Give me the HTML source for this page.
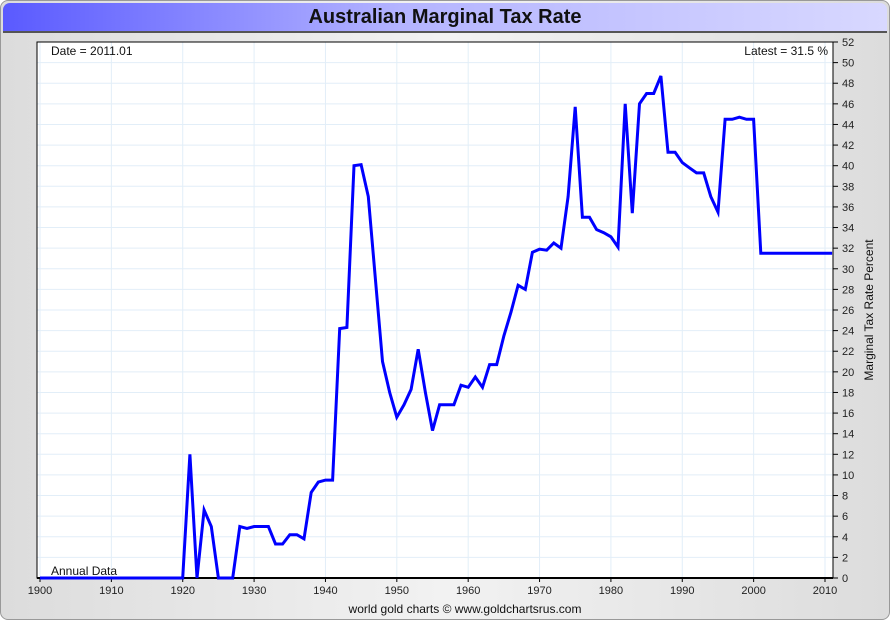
<!DOCTYPE html>
<html><head><meta charset="utf-8"><style>
body{margin:0;width:890px;height:620px;overflow:hidden;font-family:"Liberation Sans",sans-serif;}
#wrap{position:absolute;left:0;top:0;width:888px;height:618px;border:1px solid #999;border-radius:8px;background:linear-gradient(90deg,#dcdcdc,#f2f2f2 50%,#dcdcdc);}
#title{position:absolute;left:2px;top:2px;width:884px;height:28px;border-bottom:2px solid #555;border-radius:7px 7px 0 0;background:linear-gradient(90deg,#5a5aff,#b4b4ff 45%,#d8d8ff);text-align:center;font-weight:bold;font-size:20px;line-height:29px;color:#111;}
</style></head><body>
<div id="wrap">
<div id="title">Australian Marginal Tax Rate</div>
<svg id="chart" width="890" height="620" style="position:absolute;left:-1px;top:-1px"></svg>
</div>
<script>
const years=[];for(let y=1900;y<=2011;y++)years.push(y);
const rates=[0,0,0,0,0,0,0,0,0,0,0,0,0,0,0,0,0,0,0,0,0,
12,0,6.6,5,0,0,0,5,4.8,5,5,5,3.3,3.3,4.2,4.2,3.8,8.3,9.3,9.5,9.5,24.2,24.3,40,40.1,37,29,21,18,15.6,16.8,18.3,22.2,18,14.3,16.8,16.8,16.8,18.7,18.5,19.5,18.5,20.7,20.7,23.5,25.8,28.4,28,31.6,31.9,31.8,32.5,32,37,45.7,35,35,33.8,33.5,33.1,32.1,46,35.4,46,47,47,48.7,41.3,41.3,40.3,39.8,39.3,39.3,37,35.5,44.5,44.5,44.7,44.5,44.5,31.5,31.5,31.5,31.5,31.5,31.5,31.5,31.5,31.5,31.5,31.5];
const yTicks=[0,2,4,6,8,10,12,14,16,18,20,22,24,26,28,30,32,34,36,38,40,42,44,46,48,50,52];
const xTicks=[1900,1910,1920,1930,1940,1950,1960,1970,1980,1990,2000,2010];
const L=37,R=833,T=42,B=578;
const X=y=>40+(y-1900)*(785/110);
const Y=v=>B-v*(B-T)/52;
const svg=document.getElementById('chart');const NS='http://www.w3.org/2000/svg';
function mk(t,a,txt){const e=document.createElementNS(NS,t);for(const k in a)e.setAttribute(k,a[k]);if(txt!==undefined)e.textContent=txt;svg.appendChild(e);return e;}
const bg=mk('rect',{x:L,y:T,width:R-L,height:B-T,fill:'#fff'});


yTicks.forEach(v=>{
const g=mk('line',{x1:L,x2:R,y1:Y(v),y2:Y(v),stroke:'#e2eef8','stroke-width':1});


const t=mk('line',{x1:R,x2:R+5,y1:Y(v),y2:Y(v),stroke:'#000'});


const l=mk('text',{x:R+9,y:Y(v)+4,'font-size':11,fill:'#222'},v);


});
xTicks.forEach(v=>{
const g=mk('line',{x1:X(v),x2:X(v),y1:T,y2:B,stroke:'#e2eef8'});


const t=mk('line',{x1:X(v),x2:X(v),y1:B,y2:B+4,stroke:'#000'});


const l=mk('text',{x:X(v),y:B+16,'font-size':11,fill:'#222','text-anchor':'middle'},v);


});
const fr=mk('rect',{x:L,y:T,width:R-L,height:B-T,fill:'none',stroke:'#000','stroke-width':1});


const ax=mk('line',{x1:L,x2:R,y1:B,y2:B,stroke:'#000','stroke-width':2});


const pts=years.map((y,i)=>X(y).toFixed(1)+','+Y(rates[i]).toFixed(1)).join(' ');
const ln=mk('polyline',{points:pts,fill:'none',stroke:'#0000ff','stroke-width':3,'stroke-linejoin':'miter'});


const t1=mk('text',{x:51,y:55,'font-size':12,fill:'#111'},'Date = 2011.01');


const t2=mk('text',{x:828,y:55,'font-size':12,fill:'#111','text-anchor':'end'},'Latest = 31.5 %');


const t3=mk('text',{x:51,y:575,'font-size':12,fill:'#111'},'Annual Data');


const t4=mk('text',{x:873,y:310,'font-size':12,fill:'#111','text-anchor':'middle',transform:'rotate(-90 873 310)'},'Marginal Tax Rate Percent');


const t5=mk('text',{x:465,y:613,'font-size':12,fill:'#111','text-anchor':'middle'},'world gold charts © www.goldchartsrus.com');


</script>
</body></html>
